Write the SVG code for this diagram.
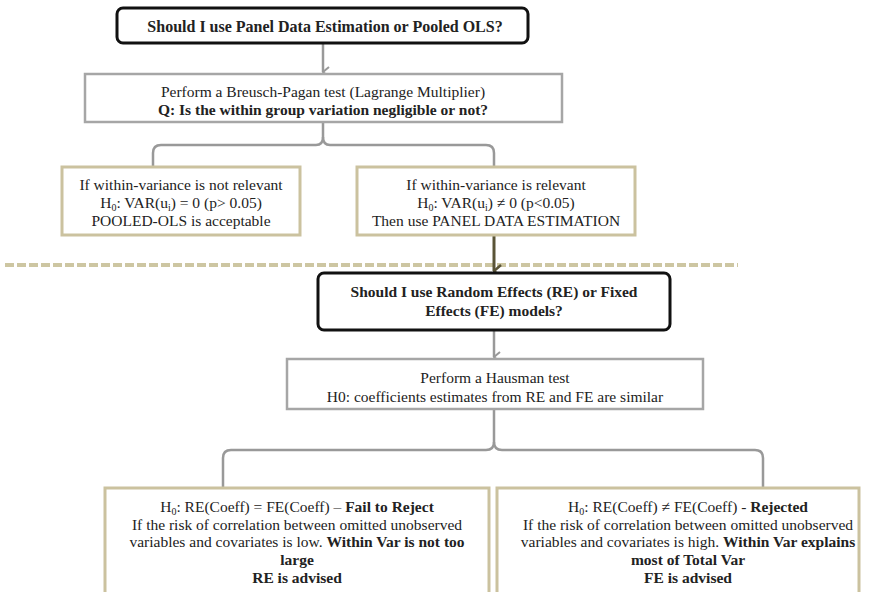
<svg xmlns="http://www.w3.org/2000/svg" width="882" height="592" viewBox="0 0 882 592">
  <defs>
    <style>
      text { font-family: "Liberation Serif", "Times New Roman", serif; font-size: 15.5px; fill: #222; text-anchor: middle; }
      .b { font-weight: bold; }
      .title { font-size: 16px; font-weight: bold; }
      .q { fill: #fff; stroke: #111; stroke-width: 3; }
      .test { fill: #fff; stroke: #a6a6a6; stroke-width: 2.5; }
      .opt { fill: #fff; stroke: #cbc29f; stroke-width: 3; }
      .link { fill: none; stroke: #999; stroke-width: 2.5; }
      .sub { font-size: 10px; }
    </style>
    <marker id="chev" viewBox="0 0 12 12" refX="6" refY="11" markerWidth="12" markerHeight="12" markerUnits="userSpaceOnUse" orient="auto-start-reverse">
      <polyline points="1,5 6,11 11,5" fill="none" stroke="#999" stroke-width="2"/>
    </marker>
    <marker id="chevDark" viewBox="0 0 14 14" refX="7" refY="13" markerWidth="14" markerHeight="14" markerUnits="userSpaceOnUse" orient="auto-start-reverse">
      <polyline points="1,6 7,13 13,6" fill="none" stroke="#5a5437" stroke-width="2.5"/>
    </marker>
  </defs>

  <!-- divider between the two stages -->
  <line x1="5" y1="265" x2="738" y2="265" stroke="#cdc6a2" stroke-width="4" stroke-dasharray="9 3"/>

  <!-- connectors -->
  <g id="connectors">
    <line class="link" x1="323" y1="44" x2="323" y2="72" marker-end="url(#chev)"/>
    <path class="link" d="M323,122 V137 Q323,145 316,145 H161 Q153,145 153,153 V167"/>
    <path class="link" d="M323,137 Q323,145 330,145 H486 Q494,145 494,153 V167"/>
    <line x1="494" y1="235" x2="494" y2="271" stroke="#5a5437" stroke-width="3" marker-end="url(#chevDark)"/>
    <line class="link" x1="494" y1="331" x2="494" y2="357" marker-end="url(#chev)"/>
    <path class="link" d="M494,409 V442 Q494,450 486,450 H231 Q223,450 223,458 V488"/>
    <path class="link" d="M494,442 Q494,450 502,450 H755 Q763,450 763,458 V488"/>
  </g>

  <g id="q-panel">
    <rect class="q" x="117" y="8" width="411" height="35" rx="6"/>
    <text class="title" x="325" y="31.5">Should I use Panel Data Estimation or Pooled OLS?</text>
  </g>

  <g id="bp-test">
    <rect class="test" x="85" y="74" width="477" height="48"/>
    <text x="323" y="97">Perform a Breusch-Pagan test (Lagrange Multiplier)</text>
    <text class="b" x="323" y="115">Q: Is the within group variation negligible or not?</text>
  </g>

  <g id="pooled-ols">
    <rect class="opt" x="62" y="167" width="238" height="68"/>
    <text x="181" y="190">If within-variance is not relevant</text>
    <text x="181" y="208">H<tspan class="sub" dy="3">0</tspan><tspan dy="-3">: VAR(u</tspan><tspan class="sub" dy="3">i</tspan><tspan dy="-3">) = 0 (p&gt; 0.05)</tspan></text>
    <text x="181" y="226">POOLED-OLS is acceptable</text>
  </g>

  <g id="panel-est">
    <rect class="opt" x="357" y="167" width="278" height="68"/>
    <text x="496" y="190">If within-variance is relevant</text>
    <text x="496" y="208">H<tspan class="sub" dy="3">0</tspan><tspan dy="-3">: VAR(u</tspan><tspan class="sub" dy="3">i</tspan><tspan dy="-3">) ≠ 0 (p&lt;0.05)</tspan></text>
    <text x="496" y="226">Then use PANEL DATA ESTIMATION</text>
  </g>

  <g id="q-re-fe">
    <rect class="q" x="318" y="273" width="352" height="57" rx="6"/>
    <text class="b" x="494" y="297">Should I use Random Effects (RE) or Fixed</text>
    <text class="b" x="494" y="316">Effects (FE) models?</text>
  </g>

  <g id="hausman">
    <rect class="test" x="287" y="359" width="416" height="50"/>
    <text x="495" y="383">Perform a Hausman test</text>
    <text x="495" y="402">H0: coefficients estimates from RE and FE are similar</text>
  </g>

  <g id="re-advised">
    <rect class="opt" x="105" y="488" width="384" height="110"/>
    <text x="297" y="512">H<tspan class="sub" dy="3">0</tspan><tspan dy="-3">: RE(Coeff) = FE(Coeff) – </tspan><tspan class="b">Fail to Reject</tspan></text>
    <text x="297" y="530">If the risk of correlation between omitted unobserved</text>
    <text x="297" y="547">variables and covariates is low. <tspan class="b">Within Var is not too</tspan></text>
    <text class="b" x="297" y="565">large</text>
    <text class="b" x="297" y="583">RE is advised</text>
  </g>

  <g id="fe-advised">
    <rect class="opt" x="497" y="488" width="362" height="110"/>
    <text x="688" y="512">H<tspan class="sub" dy="3">0</tspan><tspan dy="-3">: RE(Coeff) ≠ FE(Coeff) - </tspan><tspan class="b">Rejected</tspan></text>
    <text x="688" y="530">If the risk of correlation between omitted unobserved</text>
    <text x="688" y="547">variables and covariates is high. <tspan class="b">Within Var explains</tspan></text>
    <text class="b" x="688" y="565">most of Total Var</text>
    <text class="b" x="688" y="583">FE is advised</text>
  </g>
</svg>
